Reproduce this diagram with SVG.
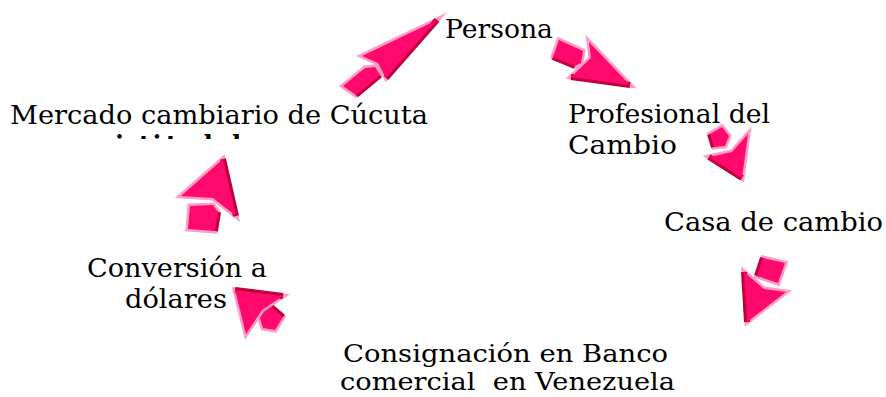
<svg xmlns="http://www.w3.org/2000/svg" xmlns:xlink="http://www.w3.org/1999/xlink" width="886" height="397" viewBox="0 0 886 397">
<style>
.t{font-family:"DejaVu Serif","Liberation Serif",serif;font-size:26px;fill:#000}
.s{font-size:25px}
.tb{font-family:"DejaVu Serif","Liberation Serif",serif;font-size:24px;font-weight:bold;fill:#000}
.lt{fill:#ff9cc8;stroke:#ff9cc8;stroke-width:5;stroke-linejoin:miter;stroke-miterlimit:8}
.dk{fill:none;stroke:#c0003a;stroke-width:6;stroke-linejoin:miter;stroke-linecap:butt}
.mn{fill:#ff0a6c}
</style>
<defs>
<clipPath id="cl"><rect x="0" y="120" width="440" height="19"/></clipPath>
<polygon id="h1" points="437,20 362,56 378,63 386,78"/>
<polygon id="t1" points="343,86 365,68 375,67 380,75 356,95"/>
<polygon id="h2" points="630,85 589,42 591,58 571,77"/>
<polygon id="t2" points="559,40 583,51 581,63 575,66 553,57"/>
<polygon id="h3" points="742,178 748,134 732,152 709,157"/>
<polygon id="t3" points="710,134 722,127 729,136 725,146 714,147"/>
<polygon id="h4" points="747,322 786,292 764,289 744,272"/>
<polygon id="t4" points="763,258 785,263 778,283 757,276"/>
<polygon id="h5" points="235,290 246,334 262,310 283,296"/>
<polygon id="t5" points="270,306 283,317 275,330 263,328 259,315"/>
<polygon id="h6" points="223,159 181,196 213,198 236,216"/>
<polygon id="t6" points="190,206 213,205 218,212 215,231 188,229"/>
</defs>
<rect width="886" height="397" fill="#fff"/>
<g id="connectors">
 <g id="a1"><use href="#t1" class="lt"/><polyline class="dk" points="380,75 356,95"/><use href="#t1" class="mn"/><use href="#h1" class="lt"/><polyline class="dk" points="386,78 437,20"/><use href="#h1" class="mn"/></g>
 <g id="a2"><use href="#t2" class="lt"/><polyline class="dk" points="575,66 553,57"/><use href="#t2" class="mn"/><use href="#h2" class="lt"/><polyline class="dk" points="571,77 630,85"/><use href="#h2" class="mn"/></g>
 <g id="a3"><use href="#t3" class="lt"/><polyline class="dk" points="714,147 710,134"/><use href="#t3" class="mn"/><use href="#h3" class="lt"/><polyline class="dk" points="709,157 742,178"/><use href="#h3" class="mn"/></g>
 <g id="a4"><use href="#t4" class="lt"/><polyline class="dk" points="757,276 763,258"/><use href="#t4" class="mn"/><use href="#h4" class="lt"/><polyline class="dk" points="744,272 747,322"/><use href="#h4" class="mn"/></g>
 <g id="a5"><use href="#t5" class="lt"/><polyline class="dk" points="270,306 283,317"/><use href="#t5" class="mn"/><use href="#h5" class="lt"/><polyline class="dk" points="283,296 235,290"/><use href="#h5" class="mn"/></g>
 <g id="a6"><use href="#t6" class="lt"/><polyline class="dk" points="218,212 215,231"/><use href="#t6" class="mn"/><use href="#h6" class="lt"/><polyline class="dk" points="236,216 223,159"/><use href="#h6" class="mn"/></g>
</g>
<g id="persona"><text class="t" x="445" y="38" textLength="108" lengthAdjust="spacingAndGlyphs">Persona</text></g>
<g id="profesional"><text class="t" x="568" y="123" textLength="202" lengthAdjust="spacingAndGlyphs">Profesional del</text><text class="t" x="568" y="154" textLength="109" lengthAdjust="spacingAndGlyphs">Cambio</text></g>
<g id="casa"><text class="t" x="664" y="231" textLength="219" lengthAdjust="spacingAndGlyphs">Casa de cambio</text></g>
<g id="consignacion"><text class="t s" x="343" y="362" textLength="325" lengthAdjust="spacingAndGlyphs">Consignación en Banco</text><text class="t s" x="340" y="390" textLength="335" lengthAdjust="spacingAndGlyphs" xml:space="preserve">comercial  en Venezuela</text></g>
<g id="conversion"><text class="t" x="87" y="277" textLength="180" lengthAdjust="spacingAndGlyphs">Conversión a</text><text class="t" x="125" y="308" textLength="102" lengthAdjust="spacingAndGlyphs">dólares</text></g>
<g id="mercado"><text class="t" x="10" y="124" textLength="418" lengthAdjust="spacingAndGlyphs">Mercado cambiario de Cúcuta</text>
<g clip-path="url(#cl)"><text class="tb" x="115 139 152.5 166 196 232" y="152.5">ititdl</text></g></g>
</svg>
